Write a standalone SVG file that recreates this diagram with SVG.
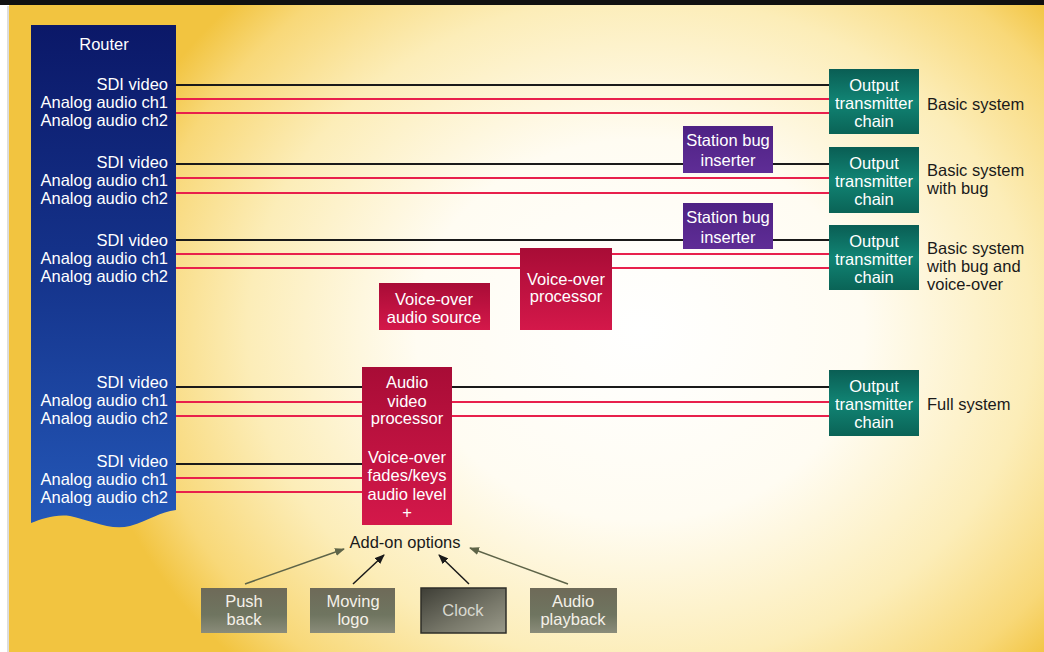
<svg xmlns="http://www.w3.org/2000/svg" width="1044" height="652" viewBox="0 0 1044 652">
<defs>
<radialGradient id="bg" gradientUnits="userSpaceOnUse" cx="640" cy="330" r="560" gradientTransform="translate(640 330) scale(1 0.85) translate(-640 -330)">
<stop offset="0" stop-color="#ffffff"/>
<stop offset="0.4" stop-color="#fffcf2"/>
<stop offset="0.7" stop-color="#fcedb8"/>
<stop offset="0.9" stop-color="#f8d878"/>
<stop offset="1" stop-color="#f2c440"/>
</radialGradient>
<linearGradient id="router" x1="0" y1="0" x2="0" y2="1">
<stop offset="0" stop-color="#0b1868"/>
<stop offset="0.5" stop-color="#15348c"/>
<stop offset="1" stop-color="#2458b8"/>
</linearGradient>
<linearGradient id="teal" x1="0" y1="0" x2="0" y2="1">
<stop offset="0" stop-color="#0a5e54"/>
<stop offset="0.5" stop-color="#118474"/>
<stop offset="1" stop-color="#0a6356"/>
</linearGradient>
<linearGradient id="purple" x1="0" y1="0" x2="0" y2="1">
<stop offset="0" stop-color="#4e2284"/>
<stop offset="1" stop-color="#5f2d96"/>
</linearGradient>
<linearGradient id="crimson" x1="0" y1="0" x2="0" y2="1">
<stop offset="0" stop-color="#a80c36"/>
<stop offset="1" stop-color="#d4184a"/>
</linearGradient>
<linearGradient id="olive" x1="0" y1="0" x2="0" y2="1">
<stop offset="0" stop-color="#6e6a58"/>
<stop offset="0.6" stop-color="#6f7560"/>
<stop offset="1" stop-color="#8a8c7a"/>
</linearGradient>
<linearGradient id="clock" x1="0" y1="0" x2="1" y2="1">
<stop offset="0" stop-color="#3e3e36"/>
<stop offset="0.6" stop-color="#78786a"/>
<stop offset="1" stop-color="#9a9a8a"/>
</linearGradient>
<marker id="ahK" markerWidth="10" markerHeight="8" refX="9" refY="4" orient="auto" markerUnits="userSpaceOnUse">
<path d="M0,0 L10,4 L0,8 Z" fill="#1a1a1a"/>
</marker>
<marker id="ahG" markerWidth="10" markerHeight="8" refX="9" refY="4" orient="auto" markerUnits="userSpaceOnUse">
<path d="M0,0 L10,4 L0,8 Z" fill="#5e6448"/>
</marker>
</defs>
<style>
text{font-family:"Liberation Sans",Arial,sans-serif;font-size:16.5px}
.w{fill:#ffffff}
.wr{fill:#ffffff;text-anchor:end}
.c{fill:#ffffff;text-anchor:middle}
.d{fill:#1a1a1a}
.v{stroke:#1a1a1a;stroke-width:2;fill:none}
.a{stroke:#e8204c;stroke-width:2;fill:none}
</style>
<rect width="1044" height="652" fill="url(#bg)"/>
<rect x="0" y="0" width="9" height="652" fill="#ffffff"/>
<line x1="8" y1="6" x2="8" y2="652" stroke="#bbbbbb" stroke-width="1"/>
<rect x="0" y="0" width="1044" height="5" fill="#111111"/>

<g id="connectors">
<line class="v" x1="176" y1="85" x2="829" y2="85"/>
<line class="a" x1="176" y1="99" x2="829" y2="99"/>
<line class="a" x1="176" y1="113" x2="829" y2="113"/>
<line class="v" x1="176" y1="164" x2="683" y2="164"/>
<line class="v" x1="773" y1="164" x2="829" y2="164"/>
<line class="a" x1="176" y1="178" x2="829" y2="178"/>
<line class="a" x1="176" y1="193" x2="829" y2="193"/>
<line class="v" x1="176" y1="240" x2="683" y2="240"/>
<line class="v" x1="773" y1="240" x2="829" y2="240"/>
<line class="a" x1="176" y1="254" x2="829" y2="254"/>
<line class="a" x1="176" y1="268" x2="829" y2="268"/>
<line class="v" x1="176" y1="387" x2="829" y2="387"/>
<line class="a" x1="176" y1="402" x2="829" y2="402"/>
<line class="a" x1="176" y1="416" x2="829" y2="416"/>
<line class="v" x1="176" y1="464" x2="362" y2="464"/>
<line class="a" x1="176" y1="478" x2="362" y2="478"/>
<line class="a" x1="176" y1="492" x2="362" y2="492"/>
<line x1="245" y1="584" x2="344" y2="549" stroke="#5e6448" stroke-width="1.5" marker-end="url(#ahG)"/>
<line x1="353" y1="584" x2="384" y2="555" stroke="#1a1a1a" stroke-width="1.5" marker-end="url(#ahK)"/>
<line x1="469" y1="584" x2="439" y2="555" stroke="#1a1a1a" stroke-width="1.5" marker-end="url(#ahK)"/>
<line x1="568" y1="584" x2="470" y2="548" stroke="#5e6448" stroke-width="1.5" marker-end="url(#ahG)"/>
</g>

<g id="router">
<path d="M31,25 H176 V510 C160,512 150,520 130,526 C110,531 90,520 70,516 C55,514 42,519 31,523 Z" fill="url(#router)"/>
<text class="c" x="104" y="50">Router</text>
<text class="wr" x="168" y="90">SDI video</text>
<text class="wr" x="168" y="108">Analog audio ch1</text>
<text class="wr" x="168" y="126">Analog audio ch2</text>
<text class="wr" x="168" y="168">SDI video</text>
<text class="wr" x="168" y="186">Analog audio ch1</text>
<text class="wr" x="168" y="204">Analog audio ch2</text>
<text class="wr" x="168" y="246">SDI video</text>
<text class="wr" x="168" y="264">Analog audio ch1</text>
<text class="wr" x="168" y="282">Analog audio ch2</text>
<text class="wr" x="168" y="388">SDI video</text>
<text class="wr" x="168" y="406">Analog audio ch1</text>
<text class="wr" x="168" y="424">Analog audio ch2</text>
<text class="wr" x="168" y="467">SDI video</text>
<text class="wr" x="168" y="485">Analog audio ch1</text>
<text class="wr" x="168" y="503">Analog audio ch2</text>
</g>

<g id="out1">
<rect x="829" y="69" width="90" height="65" fill="url(#teal)"/>
<text class="c" x="874" y="91">Output</text>
<text class="c" x="874" y="109">transmitter</text>
<text class="c" x="874" y="127">chain</text>
</g>
<g id="out2">
<rect x="829" y="147" width="90" height="66" fill="url(#teal)"/>
<text class="c" x="874" y="169">Output</text>
<text class="c" x="874" y="187">transmitter</text>
<text class="c" x="874" y="205">chain</text>
</g>
<g id="out3">
<rect x="829" y="225" width="90" height="65" fill="url(#teal)"/>
<text class="c" x="874" y="247">Output</text>
<text class="c" x="874" y="265">transmitter</text>
<text class="c" x="874" y="283">chain</text>
</g>
<g id="out4">
<rect x="829" y="370" width="90" height="66" fill="url(#teal)"/>
<text class="c" x="874" y="392">Output</text>
<text class="c" x="874" y="410">transmitter</text>
<text class="c" x="874" y="428">chain</text>
</g>

<g id="labels">
<text class="d" x="927" y="110">Basic system</text>
<text class="d" x="927" y="176">Basic system</text>
<text class="d" x="927" y="194">with bug</text>
<text class="d" x="927" y="254">Basic system</text>
<text class="d" x="927" y="272">with bug and</text>
<text class="d" x="927" y="290">voice-over</text>
<text class="d" x="927" y="410">Full system</text>
</g>

<g id="bug1">
<rect x="683" y="126" width="90" height="47" fill="url(#purple)"/>
<text class="c" x="728" y="146">Station bug</text>
<text class="c" x="728" y="166">inserter</text>
</g>
<g id="bug2">
<rect x="683" y="203" width="90" height="46" fill="url(#purple)"/>
<text class="c" x="728" y="223">Station bug</text>
<text class="c" x="728" y="243">inserter</text>
</g>

<g id="vo-processor">
<rect x="520" y="248" width="92" height="82" fill="url(#crimson)"/>
<text class="c" x="566" y="285">Voice-over</text>
<text class="c" x="566" y="302">processor</text>
</g>
<g id="vo-source">
<rect x="379" y="283" width="111" height="47" fill="url(#crimson)"/>
<text class="c" x="434" y="305">Voice-over</text>
<text class="c" x="434" y="323">audio source</text>
</g>
<g id="av-processor">
<rect x="362" y="367" width="90" height="158" fill="url(#crimson)"/>
<text class="c" x="407" y="388">Audio</text>
<text class="c" x="407" y="407">video</text>
<text class="c" x="407" y="424">processor</text>
<text class="c" x="407" y="463">Voice-over</text>
<text class="c" x="407" y="481">fades/keys</text>
<text class="c" x="407" y="500">audio level</text>
<text class="c" x="407" y="518">+</text>
</g>

<g id="addon">
<text class="d" x="405" y="548" text-anchor="middle">Add-on options</text>
</g>

<g id="pushback">
<rect x="201" y="588" width="86" height="45" fill="url(#olive)"/>
<text x="244" y="607" fill="#f4f0e8" text-anchor="middle">Push</text>
<text x="244" y="625" fill="#f4f0e8" text-anchor="middle">back</text>
</g>
<g id="movinglogo">
<rect x="310" y="588" width="85" height="45" fill="url(#olive)"/>
<text x="353" y="607" fill="#f4f0e8" text-anchor="middle">Moving</text>
<text x="353" y="625" fill="#f4f0e8" text-anchor="middle">logo</text>
</g>
<g id="clock-box">
<rect x="421" y="588" width="85" height="45" fill="url(#clock)" stroke="#2e2e28" stroke-width="1.5"/>
<text x="463" y="616" fill="#d8d8d0" text-anchor="middle">Clock</text>
</g>
<g id="audioplayback">
<rect x="530" y="588" width="87" height="45" fill="url(#olive)"/>
<text x="573" y="607" fill="#f4f0e8" text-anchor="middle">Audio</text>
<text x="573" y="625" fill="#f4f0e8" text-anchor="middle">playback</text>
</g>
</svg>
